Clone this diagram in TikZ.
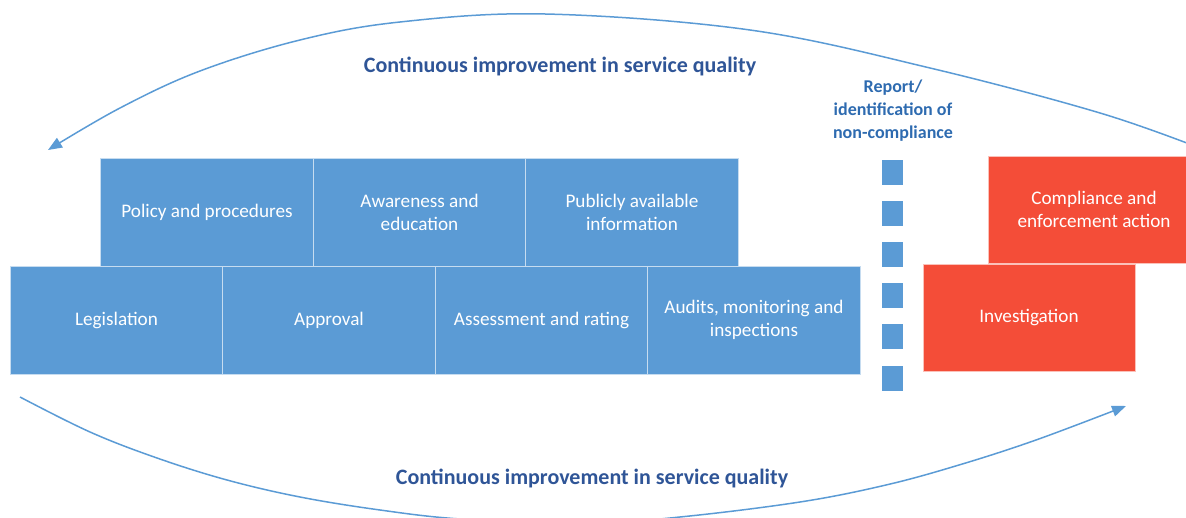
\documentclass[tikz,border=0pt]{standalone}
\usepackage{fontspec}
\setmainfont{Carlito}
\usetikzlibrary{arrows.meta}
\definecolor{boxblue}{HTML}{5B9BD5}
\definecolor{boxred}{HTML}{F44D38}
\definecolor{lbl}{HTML}{2F5597}
\definecolor{rep}{HTML}{2E6BB0}
\begin{document}
\begin{tikzpicture}[x=1pt,y=-1pt,
  bluebox/.style={rectangle, fill=boxblue, draw=white!65!boxblue, line width=0.8pt,
    minimum width=212.5pt, minimum height=108pt, inner sep=0pt, text=white,
    align=center, font=\fontsize{19.2}{23}\selectfont},
  redbox/.style={bluebox, fill=boxred, draw=white!65!boxred, minimum width=212pt, minimum height=107pt},
  sq/.style={rectangle, fill=boxblue, minimum width=21pt, minimum height=25pt, inner sep=0pt},
  looplabel/.style={text=lbl, font=\bfseries\fontsize{22}{26}\selectfont},
  replabel/.style={text=rep, align=center, font=\bfseries\fontsize{18}{23}\selectfont},
  arcline/.style={draw=boxblue, line width=1.5pt, -{Triangle[length=14pt,width=11pt]}}
]
\useasboundingbox (0,0) rectangle (1186,518);
\clip (0,0) rectangle (1186,518);

% top row
\node[bluebox] (pol) at (207,212) {Policy and procedures};
\node[bluebox] (awa) at (419.5,212) {Awareness and\\education};
\node[bluebox] (pub) at (632,212) {Publicly available\\information};
% bottom row
\node[bluebox] (leg) at (116.5,320) {Legislation};
\node[bluebox] (app) at (329,320) {Approval};
\node[bluebox] (ass) at (541.5,320) {Assessment and rating};
\node[bluebox] (aud) at (754,320) {Audits, monitoring and\\inspections};

% dashed separator
\node[sq] (s1) at (892.5,172.5) {};
\node[sq] (s2) at (892.5,213.5) {};
\node[sq] (s3) at (892.5,255) {};
\node[sq] (s4) at (892.5,296) {};
\node[sq] (s5) at (892.5,337) {};
\node[sq] (s6) at (892.5,378.5) {};

\node[replabel] (rep) at (893,111) {Report/\\identification of\\non-compliance};

% red boxes
\node[redbox] (comp) at (1094,209.5) {Compliance and\\enforcement action};
\node[redbox] (inv) at (1029,317.5) {Investigation};

% labels
\node[looplabel] (toplbl) at (560,66) {Continuous improvement in service quality};
\node[looplabel] (botlbl) at (592,478) {Continuous improvement in service quality};

% arcs
\draw[arcline] plot[smooth, tension=0.6] coordinates {(1205,150) (1100,113) (930,68) (750,30) (545,14) (400,22) (300,40) (200,71) (120,108) (48,150)};
\draw[arcline] plot[smooth, tension=0.6] coordinates {(20,397) (90,432) (157,458) (227,480) (300,497) (380,510) (460,519) (580,524) (680,517) (800,502) (886,485) (959,465) (1036,440) (1126,406)};
\end{tikzpicture}
\end{document}
